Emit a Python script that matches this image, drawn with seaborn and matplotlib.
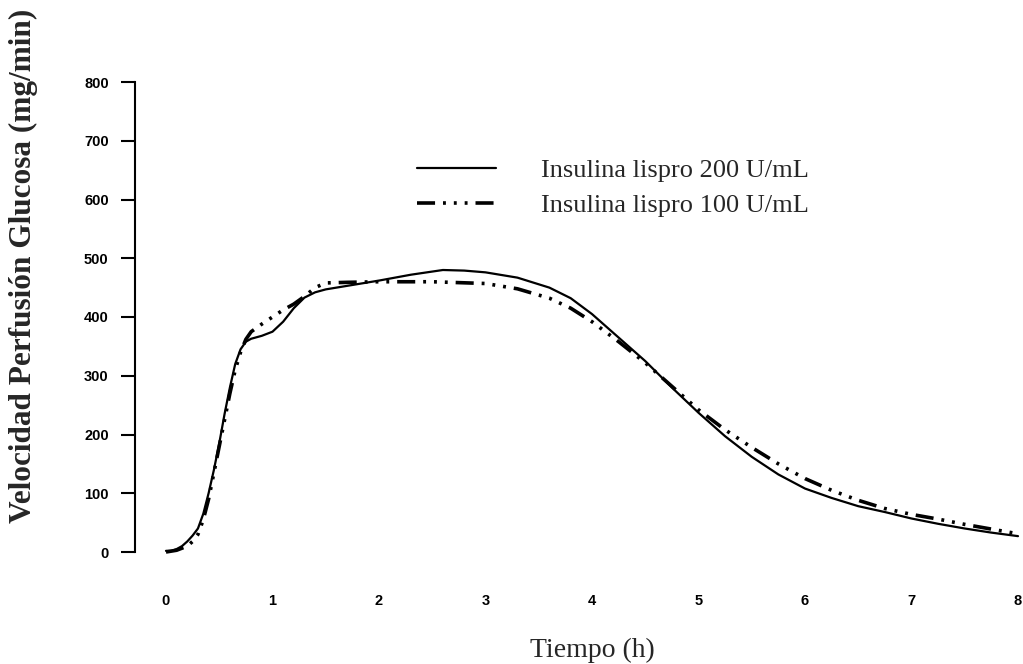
import numpy as np
import pandas as pd
import matplotlib
matplotlib.use('Agg')
import matplotlib.pyplot as plt
import seaborn as sns

# values (mg/min vs hours)
t_200 = [0, 0.05, 0.1, 0.15, 0.2, 0.25, 0.3, 0.35, 0.4, 0.45, 0.5, 0.55, 0.6, 0.65,
         0.7, 0.75, 0.8, 0.9, 1.0, 1.1, 1.2, 1.3, 1.4, 1.5, 1.7, 2.0, 2.3, 2.6, 2.8,
         3.0, 3.3, 3.6, 3.8, 4.0, 4.25, 4.5, 4.75, 5.0, 5.25, 5.5, 5.75, 6.0, 6.25,
         6.5, 6.75, 7.0, 7.25, 7.5, 7.75, 8.0]
v_200 = [2, 2, 5, 10, 18, 28, 40, 65, 100, 140, 185, 235, 280, 320,
         345, 358, 363, 368, 375, 392, 415, 433, 442, 447, 453, 462, 472, 480, 479,
         476, 467, 450, 432, 405, 365, 325, 280, 237, 197, 162, 132, 108, 92,
         78, 68, 57, 48, 40, 33, 27]

t_100 = [0, 0.1, 0.2, 0.25, 0.3, 0.35, 0.4, 0.45, 0.5, 0.55, 0.6, 0.65, 0.7, 0.75,
         0.8, 0.9, 1.0, 1.1, 1.2, 1.3, 1.4, 1.5, 1.7, 2.0, 2.5, 3.0, 3.3, 3.6, 3.8,
         4.0, 4.25, 4.5, 4.75, 5.0, 5.25, 5.5, 5.75, 6.0, 6.25, 6.5, 6.75, 7.0,
         7.25, 7.5, 7.75, 8.0]
v_100 = [0, 3, 10, 18, 30, 55, 90, 135, 180, 225, 270, 310, 340, 362,
         375, 388, 400, 412, 422, 435, 450, 458, 459, 460, 460, 457, 448, 432, 415,
         392, 358, 322, 282, 242, 208, 178, 150, 125, 105, 88, 74, 64,
         56, 47, 39, 31]

labels = ['Insulina lispro 200 U/mL', 'Insulina lispro 100 U/mL']
x_ticks = [0, 1, 2, 3, 4, 5, 6, 7, 8]
y_ticks = [0, 100, 200, 300, 400, 500, 600, 700, 800]

sns.set_style('white')

fig = plt.figure(figsize=(10.23, 6.64), dpi=100)
ax = fig.add_axes([166/1023, 1-552/664, 852/1023, 470/664])

sns.lineplot(x=t_200, y=v_200, ax=ax, color='black', linewidth=1.6,
             label=labels[0], clip_on=False)
sns.lineplot(x=t_100, y=v_100, ax=ax, color='black', linewidth=2.6,
             linestyle=(0, (5, 2.2, 0.8, 2.2, 0.8, 2.2, 0.8, 2.2)),
             label=labels[1], clip_on=False)

ax.set_xlim(0, 8)
ax.set_ylim(0, 800)
ax.set_xticks(x_ticks)
ax.set_yticks(y_ticks)

for s in ['top', 'right', 'bottom']:
    ax.spines[s].set_visible(False)
# spine sits 31 px left of x = 0
ax.spines['left'].set_position(('outward', 22.3))
ax.spines['left'].set_linewidth(1.5)
ax.spines['left'].set_color('black')

ax.tick_params(axis='y', length=10, width=1.5, pad=9, colors='black', direction='out', left=True)
ax.tick_params(axis='x', length=0, pad=30, colors='black')
for lab in ax.get_xticklabels() + ax.get_yticklabels():
    lab.set_fontfamily('Liberation Sans')
    lab.set_fontweight('bold')
    lab.set_fontsize(10.5)

ax.set_xlabel('Tiempo (h)', family='Liberation Serif', fontsize=20, labelpad=22)
ax.set_ylabel('Velocidad Perfusión Glucosa (mg/min)', family='Liberation Serif',
              fontsize=22.5, fontweight='bold')
ax.yaxis.set_label_coords(38/1023, 1-266/664, transform=fig.transFigure)

leg = ax.legend(loc='center left', bbox_to_anchor=(417/1023, 1-188/664),
                bbox_transform=fig.transFigure, frameon=False,
                prop={'family': 'Liberation Serif', 'size': 19},
                handlelength=3.0, handletextpad=1.7, labelspacing=0.45,
                borderpad=0, borderaxespad=0)

fig.savefig('out.png', dpi=100)
